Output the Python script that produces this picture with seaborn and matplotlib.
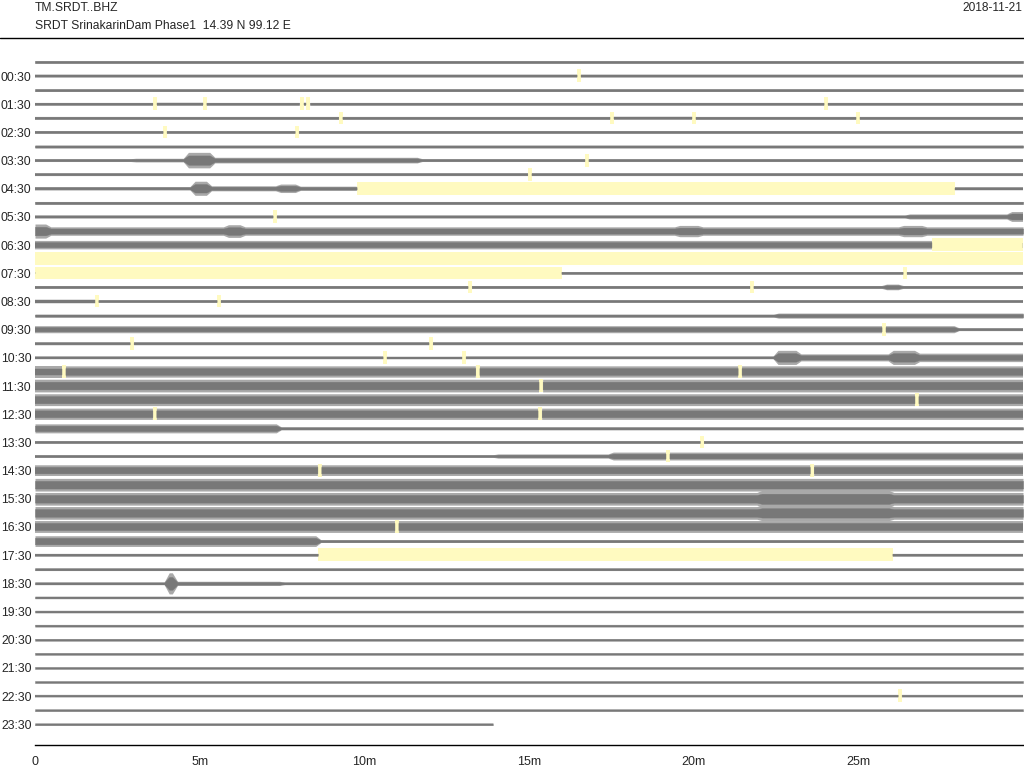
import numpy as np
import seaborn as sns
import matplotlib.pyplot as plt
from matplotlib.lines import Line2D
from matplotlib.patches import Rectangle

# Helicorder for one day, 48 rows of 30 minutes
station = "TM.SRDT..BHZ"
site = "SRDT SrinakarinDam Phase1  14.39 N 99.12 E"
day = "2018-11-21"

n_rows = 48
row_labels = ["%02d:30" % h for h in range(24)]   # on rows 1, 3, 5, ...
last_row_end = 13.9                                # minutes, data stops here

# base half-amplitude of each trace (in row heights)
row_amp = [0.09, 0.09, 0.09, 0.09, 0.10, 0.09, 0.09, 0.10,
           0.10, 0.12, 0.10, 0.10, 0.30, 0.30, 0.00, 0.08,
           0.10, 0.09, 0.10, 0.25, 0.10, 0.08, 0.40, 0.45,
           0.42, 0.40, 0.10, 0.09, 0.09, 0.38, 0.45, 0.45,
           0.45, 0.42, 0.10, 0.08, 0.08, 0.08, 0.07, 0.07,
           0.07, 0.07, 0.07, 0.07, 0.07, 0.07, 0.07, 0.07]

# (row, start min, end min, half-amplitude) where the trace differs
events = [
    (7, 3.0, 4.6, 0.13), (7, 4.6, 5.4, 0.55), (7, 5.4, 11.7, 0.2),
    (9, 4.8, 5.3, 0.5), (9, 5.3, 7.4, 0.18), (9, 7.4, 8.0, 0.3), (9, 8.0, 9.8, 0.15),
    (11, 26.5, 29.6, 0.18), (11, 29.6, 30.0, 0.35),
    (12, 0.0, 0.4, 0.5), (12, 5.8, 6.3, 0.45), (12, 19.5, 20.2, 0.4), (12, 26.3, 27.0, 0.4),
    (16, 25.8, 26.3, 0.2),
    (18, 22.5, 30.0, 0.18),
    (19, 28.0, 30.0, 0.1),
    (21, 22.5, 23.2, 0.5), (21, 23.2, 26.0, 0.25), (21, 26.0, 26.8, 0.5), (21, 26.8, 30.0, 0.3),
    (26, 0.0, 7.4, 0.32),
    (28, 14.0, 17.5, 0.15), (28, 17.5, 30.0, 0.28),
    (31, 22.0, 26.0, 0.6), (32, 22.0, 26.0, 0.55),
    (34, 0.0, 8.6, 0.38),
    (37, 4.0, 4.25, 0.75), (37, 4.25, 7.5, 0.15),
]

# long data gaps (row, start min, end min)
gaps = [(9, 9.78, 27.94), (13, 27.24, 30.0), (14, 0.0, 30.0),
        (15, 0.0, 16.0), (35, 8.6, 26.05)]

# short dropouts (row, minute)
dropouts = [(1, 16.52), (3, 3.64), (3, 5.16), (3, 8.1), (3, 8.3), (3, 24.02),
            (4, 9.29), (4, 17.52), (4, 20.01), (4, 24.99), (5, 3.95), (5, 7.96),
            (7, 16.76), (8, 15.03), (11, 7.29), (15, 26.42), (16, 13.21), (16, 21.77),
            (17, 1.88), (17, 5.59), (19, 25.78), (20, 2.95), (20, 12.03),
            (21, 10.63), (21, 13.03), (22, 0.88), (22, 13.45), (22, 21.41),
            (23, 15.37), (24, 26.78), (25, 3.64), (25, 15.34), (27, 20.26),
            (28, 19.22), (29, 8.65), (29, 23.6), (33, 10.99), (45, 26.27)]

trace_color = "#787878"
fringe_color = "#a9a9a9"
gap_color = "#fffac0"

sns.set_style("white")
plt.rcParams['font.family'] = ['Liberation Sans', 'DejaVu Sans']

fig = plt.figure(figsize=(10.24, 7.68), dpi=100)
ax = fig.add_axes([35 / 1024, 23 / 768, 988 / 1024, 707 / 768])

t = np.linspace(0, 30, 6001)
kernel = np.ones(31) / 31   # soften the envelope edges a little
for r in range(n_rows):
    amp = np.full_like(t, row_amp[r])
    for er, a, b, v in events:
        if er == r:
            amp[(t >= a) & (t <= b)] = v
    amp = np.convolve(np.pad(amp, 15, mode='edge'), kernel, mode='valid')
    keep = np.ones_like(t, dtype=bool)
    for gr, a, b in gaps:
        if gr == r:
            keep &= ~((t > a) & (t < b))
            ax.add_patch(Rectangle((a, r - 0.48), b - a, 0.9, color=gap_color, lw=0, zorder=1))
    for dr, m in dropouts:
        if dr == r:
            keep &= ~((t > m - 0.06) & (t < m + 0.06))
            ax.add_patch(Rectangle((m - 0.06, r - 0.48), 0.12, 0.9, color=gap_color, lw=0, zorder=1))
    if r == n_rows - 1:
        keep &= t <= last_row_end
    if amp.max() == 0:
        continue
    core = np.minimum(amp, np.maximum(0.075, 0.6 * amp))
    ax.fill_between(t, r - amp, r + amp, where=keep & (amp > core), color=fringe_color,
                    lw=0, zorder=2)
    ax.fill_between(t, r - core, r + core, where=keep, color=trace_color, lw=0.3,
                    edgecolor=trace_color, zorder=3)

ax.set_xlim(0, 30)
ax.set_ylim(48.47, -1.7)

ax.set_xticks(range(0, 30, 5))
ax.set_xticklabels(["0"] + ["%dm" % m for m in range(5, 30, 5)], fontsize=9)
ax.set_xticks(range(0, 31), minor=True)
ax.tick_params(axis='x', which='major', direction='out', length=6, width=1, color='black', pad=2)
ax.tick_params(axis='x', which='minor', direction='out', length=2.3, width=1, color='black')

ax.set_yticks(range(1, n_rows, 2))
ax.set_yticklabels(row_labels, fontsize=8.8, ha='left')
ax.tick_params(axis='y', length=0, pad=24.5)

for s in ['top', 'left', 'right']:
    ax.spines[s].set_visible(False)
ax.spines['bottom'].set_color('black')
ax.spines['bottom'].set_linewidth(1)

# header
fig.text(35 / 1024, 1 - 8 / 768, station, fontsize=8.7, va='center', ha='left')
fig.text(35 / 1024, 1 - 26 / 768, site, fontsize=8.7, va='center', ha='left')
fig.text(1022 / 1024, 1 - 8 / 768, day, fontsize=8.6, va='center', ha='right')
fig.add_artist(Line2D([0, 1], [1 - 38 / 768, 1 - 38 / 768], color='black', lw=1,
                      transform=fig.transFigure))

fig.savefig("out.png", dpi=100)
